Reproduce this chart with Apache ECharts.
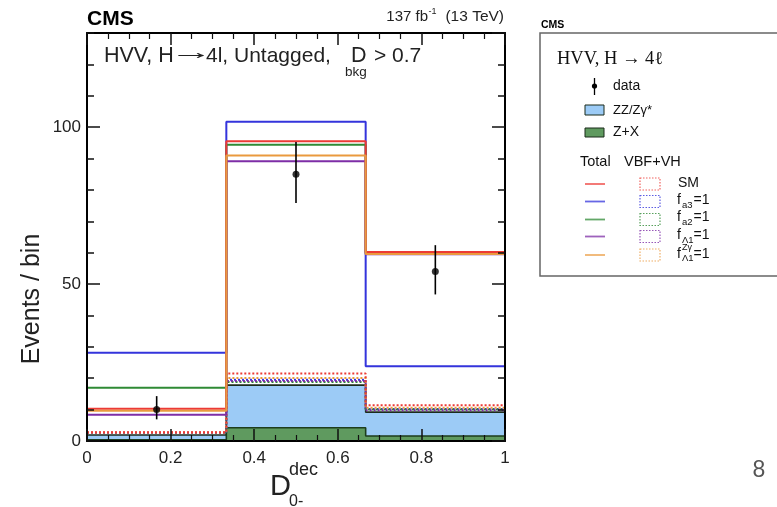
<!DOCTYPE html>
<html>
<head>
<meta charset="utf-8">
<script src="https://cdn.jsdelivr.net/npm/echarts@6/dist/echarts.min.js"></script>
<style>
  html, body { margin: 0; padding: 0; background: #fff; }
  #chart { width: 777px; height: 507px; }
</style>
</head>
<body>
<div id="chart"></div>
<script>
// Binning of the discriminant
const binEdges = [0, 1 / 3, 2 / 3, 1];
const binCenters = [1 / 6, 0.5, 5 / 6];

// Observed events with asymmetric (Poisson) error band
const dataCounts = [10, 85, 54];
const dataErrLow = [6.9, 75.8, 46.7];
const dataErrHigh = [14.3, 95.3, 62.4];

// Background processes
const zzBkg = [1.5, 13.6, 7.6];   // ZZ/Z gamma*
const zxBkg = [0.4, 4.2, 1.6];    // Z+X

// Total expectation for each hypothesis
const totalSM = [10.3, 95.5, 60.2];
const totalFa3 = [28.1, 101.7, 23.8];
const totalFa2 = [17.0, 94.4, 59.8];
const totalFL1 = [8.4, 89.1, 59.5];
const totalFL1Zg = [9.6, 91.0, 59.6];

// VBF+VH contribution for each hypothesis (drawn on top of the background)
const vbfSM = [0.9, 3.7, 2.2];
const vbfFa3 = [0.7, 1.7, 1.0];
const vbfFa2 = [0.5, 1.0, 0.8];
const vbfFL1 = [0.6, 1.3, 0.6];
const vbfFL1Zg = [0.8, 2.3, 1.4];

// Axis ticks
const xTickStep = 0.2;
const yTickStep = 50;
const yMinorStep = 10;
const yMax = 130;

const colors = {
  sm: '#ec3a35',
  fa3: '#3434dc',
  fa2: '#2f8a35',
  fl1: '#7e2ea6',
  fl1zg: '#ea9a3e',
  zz: '#9ccbf6',
  zx: '#5f9a5f'
};

// Turn per-bin values into the corner points of a step histogram
function stepPoints(vals) {
  const pts = [];
  vals.forEach((v, i) => {
    pts.push([binEdges[i], v]);
    pts.push([binEdges[i + 1], v]);
  });
  return pts;
}

const bkgSum = zzBkg.map((v, i) => v + zxBkg[i]);
const onBkg = arr => arr.map((v, i) => v + bkgSum[i]);

function totalLine(name, vals, color) {
  return {
    name, type: 'line', data: stepPoints(vals), symbol: 'none',
    lineStyle: { color, width: 2 }, z: 6, silent: true
  };
}
function vbfLine(name, vals, color) {
  return {
    name, type: 'line', data: stepPoints(onBkg(vals)), symbol: 'none',
    lineStyle: { color, width: 2, type: [2, 2] }, z: 4, silent: true
  };
}

const font = 'Liberation Sans';
const tickCol = '#111';

const chart = echarts.init(document.getElementById('chart'), null, { renderer: 'canvas' });

function xAx(position, labels) {
  return {
    type: 'value', position, min: 0, max: 1, interval: xTickStep, z: 20,
    axisLine: { show: true, onZero: false, lineStyle: { color: '#000', width: 2 } },
    axisTick: { show: true, inside: true, length: 12, lineStyle: { color: tickCol, width: 1.5 } },
    minorTick: { show: true, splitNumber: 4, length: 6, lineStyle: { color: tickCol, width: 1.2 } },
    axisLabel: { show: labels, fontSize: 17, fontFamily: font, color: '#222', margin: 9 },
    splitLine: { show: false }
  };
}
function yAx(position, step, tickLen, labels, line) {
  return {
    type: 'value', position, min: 0, max: yMax, interval: step, z: 20,
    axisLine: { show: line, onZero: false, lineStyle: { color: '#000', width: 2 } },
    axisTick: { show: true, inside: true, length: tickLen, lineStyle: { color: tickCol, width: 1.5 } },
    axisLabel: { show: labels, fontSize: 17, fontFamily: font, color: '#222', margin: 6, showMaxLabel: false },
    splitLine: { show: false }
  };
}

const rows = [
  { y: 184, color: colors.sm },
  { y: 201.5, color: colors.fa3 },
  { y: 219.5, color: colors.fa2 },
  { y: 236.5, color: colors.fl1 },
  { y: 255, color: colors.fl1zg }
];

function txt(text, x, y, size, extra) {
  return {
    type: 'text', x, y, silent: true,
    style: Object.assign({
      text, fontSize: size, fontFamily: font, fill: '#111',
      align: 'left', verticalAlign: 'middle'
    }, extra || {})
  };
}

const graphics = [
  // header
  txt('CMS', 87, 19, 21, { fontWeight: 'bold', fill: '#000' }),
  txt('137 fb', 428, 17, 15, { align: 'right', fill: '#222' }),
  txt('-1', 428.5, 12, 9, { fill: '#222' }),
  txt('(13 TeV)', 504, 17, 15.5, { align: 'right', fill: '#222' }),
  // in-plot caption
  txt('HVV, H', 104, 56, 21.5, { fill: '#222' }),
  Object.assign(txt('\u2192', 170, 53, 21, { fill: '#222' }), { scaleX: 2.05 }),
  txt('4l, Untagged,', 206, 56, 21, { fill: '#222' }),
  txt('D', 351, 56, 21.5, { fill: '#222' }),
  txt('bkg', 345, 72, 13.5, { fill: '#222' }),
  txt('> 0.7', 374, 56, 21, { fill: '#222' }),
  // axis titles
  {
    type: 'text', x: 32, y: 299, rotation: Math.PI / 2, silent: true,
    style: { text: 'Events / bin', fontSize: 25, fontFamily: font, fill: '#222', align: 'center', verticalAlign: 'middle' }
  },
  txt('D', 270, 487, 29, { fill: '#222' }),
  txt('dec', 289, 470, 18, { fill: '#222' }),
  txt('0-', 289, 502, 16, { fill: '#222' }),
  // page number
  txt('8', 759, 471, 23, { fill: '#555', align: 'center' }),

  // legend
  txt('CMS', 541, 25, 10.5, { fontWeight: 'bold', fill: '#000' }),
  {
    type: 'rect', silent: true,
    shape: { x: 540, y: 33, width: 260, height: 243 },
    style: { fill: 'none', stroke: '#666', lineWidth: 1.5 }
  },
  txt('HVV, H \u2192 4\u2113', 557, 59, 18.5, { fontFamily: 'Liberation Serif', fill: '#111' }),
  { type: 'line', silent: true, shape: { x1: 594.5, y1: 78, x2: 594.5, y2: 95 }, style: { stroke: '#000', lineWidth: 1.3 } },
  { type: 'circle', silent: true, shape: { cx: 594.5, cy: 86, r: 2.6 }, style: { fill: '#000' } },
  txt('data', 613, 86, 14),
  { type: 'rect', silent: true, shape: { x: 585, y: 105, width: 19, height: 10 }, style: { fill: colors.zz, stroke: '#1a2a1a', lineWidth: 1 } },
  txt('ZZ/Z\u03b3*', 613, 110, 13),
  { type: 'rect', silent: true, shape: { x: 585, y: 128, width: 19, height: 9 }, style: { fill: colors.zx, stroke: '#1a2a1a', lineWidth: 1 } },
  txt('Z+X', 613, 132.5, 14),
  txt('Total', 580, 162, 14.5),
  txt('VBF+VH', 624, 162, 14.5),
  // labels for hypotheses
  txt('SM', 678, 183.5, 14),
  txt('f', 677, 200, 14), txt('a3', 682, 205, 9.5), txt('=1', 693.5, 200, 14),
  txt('f', 677, 217.5, 14), txt('a2', 682, 222, 9.5), txt('=1', 693.5, 217.5, 14),
  txt('f', 677, 235.5, 14), txt('\u039b1', 682, 240.5, 9.5), txt('=1', 693.5, 235.5, 14),
  txt('f', 677, 254, 14), txt('Z\u03b3', 682, 247.5, 9), txt('\u039b1', 682, 258.5, 9.5), txt('=1', 693.5, 254, 14)
];

rows.forEach(r => {
  graphics.push({
    type: 'line', silent: true,
    shape: { x1: 585, y1: r.y, x2: 605, y2: r.y },
    style: { stroke: r.color, lineWidth: 1.8, opacity: 0.75 }
  });
  graphics.push({
    type: 'rect', silent: true,
    shape: { x: 640, y: r.y - 6, width: 20, height: 12 },
    style: { fill: 'none', stroke: r.color, lineWidth: 1.2, lineDash: [1.5, 1.5], opacity: 0.8 }
  });
});

const option = {
  animation: false,
  backgroundColor: '#fff',
  grid: { left: 87, right: 272, top: 33, bottom: 66, containLabel: false },
  xAxis: [xAx('bottom', true), xAx('top', false)],
  yAxis: [
    yAx('left', yTickStep, 13, true, true),
    yAx('left', yMinorStep, 7, false, false),
    yAx('right', yTickStep, 13, false, true),
    yAx('right', yMinorStep, 7, false, false)
  ],
  series: [
    {
      name: 'ZZ/Zgamma*', type: 'line', data: stepPoints(bkgSum), symbol: 'none',
      lineStyle: { color: '#1c2c1c', width: 1.6 },
      areaStyle: { color: colors.zz, opacity: 1 }, z: 2, silent: true
    },
    {
      name: 'Z+X', type: 'line', data: stepPoints(zxBkg), symbol: 'none',
      lineStyle: { color: '#1d3d1d', width: 1.6 },
      areaStyle: { color: colors.zx, opacity: 1 }, z: 3, silent: true
    },
    vbfLine('VBF+VH fa3', vbfFa3, colors.fa3),
    vbfLine('VBF+VH fa2', vbfFa2, colors.fa2),
    vbfLine('VBF+VH fL1', vbfFL1, colors.fl1),
    vbfLine('VBF+VH fL1Zg', vbfFL1Zg, colors.fl1zg),
    vbfLine('VBF+VH SM', vbfSM, colors.sm),
    totalLine('Total fa3', totalFa3, colors.fa3),
    totalLine('Total fa2', totalFa2, colors.fa2),
    totalLine('Total fL1', totalFL1, colors.fl1),
    totalLine('Total SM', totalSM, colors.sm),
    totalLine('Total fL1Zg', totalFL1Zg, colors.fl1zg),
    {
      name: 'data errors', type: 'custom', silent: true, z: 10,
      data: binCenters.map((c, i) => [c, dataErrLow[i], dataErrHigh[i]]),
      encode: { x: 0, y: [1, 2] },
      renderItem: (params, api) => {
        const x = api.value(0);
        const p1 = api.coord([x, api.value(1)]);
        const p2 = api.coord([x, api.value(2)]);
        return {
          type: 'line',
          shape: { x1: p1[0], y1: p1[1], x2: p2[0], y2: p2[1] },
          style: { stroke: '#000', lineWidth: 1.6 }
        };
      }
    },
    {
      name: 'data', type: 'scatter', silent: true, z: 11,
      data: binCenters.map((c, i) => [c, dataCounts[i]]),
      symbol: 'circle', symbolSize: 7, itemStyle: { color: '#000' }
    }
  ],
  graphic: graphics
};

chart.setOption(option);
</script>
</body>
</html>
